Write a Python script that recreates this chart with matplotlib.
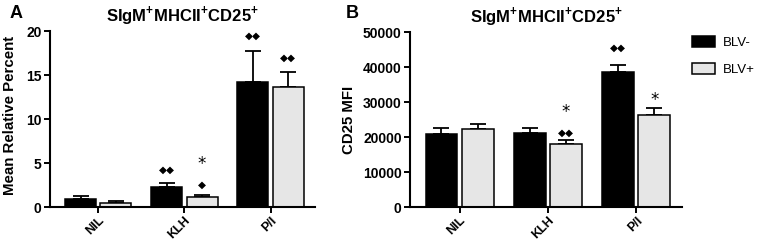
import matplotlib
matplotlib.use("Agg")
import matplotlib.pyplot as plt
import numpy as np
from matplotlib.patches import Patch

plt.rcParams['font.family'] = ['Liberation Sans', 'DejaVu Sans']
plt.rcParams['font.weight'] = 'bold'
plt.rcParams['mathtext.fontset'] = 'custom'
plt.rcParams['mathtext.rm'] = 'Liberation Sans:bold'
plt.rcParams['mathtext.bf'] = 'Liberation Sans:bold'

categories = ["NIL", "KLH", "P/I"]
series_names = ["BLV-", "BLV+"]

# Panel A: Mean Relative Percent
a_neg = [0.9, 2.3, 14.2]
a_neg_err = [0.3, 0.4, 3.5]
a_pos = [0.5, 1.1, 13.7]
a_pos_err = [0.2, 0.3, 1.6]

# Panel B: CD25 MFI
b_neg = [21000, 21300, 38500]
b_neg_err = [1500, 1400, 2000]
b_pos = [22400, 18100, 26400]
b_pos_err = [1300, 1000, 1900]

# significance annotations: (category index, series index, text lines from bottom)
a_marks = [(1, 0, ["◆◆"]), (1, 1, ["◆", "*"]), (2, 0, ["◆◆"]), (2, 1, ["◆◆"])]
b_marks = [(1, 1, ["◆◆", "*"]), (2, 0, ["◆◆"]), (2, 1, ["*"])]

colors = ["#000000", "#e6e6e6"]

fig = plt.figure(figsize=(7.58, 2.43), dpi=100)
axA = fig.add_axes([0.066, 0.148, 0.350, 0.724])
axB = fig.add_axes([0.541, 0.148, 0.359, 0.720])

def draw(ax, neg, neg_err, pos, pos_err, marks, ylim, yticks, ylabel, letter, letter_x, offsets):
    x = np.arange(len(categories))
    w = 0.36
    gap = 0.025
    vals = [neg, pos]
    errs = [neg_err, pos_err]
    xs = [x - w / 2 - gap, x + w / 2 + gap]
    for i in range(2):
        ax.bar(xs[i], vals[i], width=w, color=colors[i], edgecolor='black', linewidth=1.1, zorder=2)
        ax.errorbar(xs[i], vals[i], yerr=[np.zeros(len(x)), errs[i]], fmt='none',
                    ecolor='black', elinewidth=1.3, capsize=6, capthick=1.3, zorder=1)
    for ci, si, txts in marks:
        top = vals[si][ci] + errs[si][ci]
        for k, t in enumerate(txts):
            off = offsets[(ci, si, k)]
            fs = 7.5 if '◆' in t else 12
            ax.annotate(t, xy=(xs[si][ci], top), xytext=(0, off), textcoords='offset points',
                        ha='center', va='center', fontsize=fs, family='DejaVu Sans',
                        fontweight='normal')
    ax.set_xlim(-0.56, 2.52)
    ax.set_ylim(*ylim)
    ax.set_yticks(yticks)
    ax.set_xticks(x)
    ax.set_xticklabels(categories, rotation=45, ha='right', rotation_mode='anchor', fontsize=9, fontweight='bold')
    ax.tick_params(axis='y', labelsize=10, width=1.4, length=4, pad=2)
    ax.tick_params(axis='x', width=1.4, length=4.5, pad=1)
    for lab in ax.get_yticklabels():
        lab.set_fontweight('bold')
    ax.spines['top'].set_visible(False)
    ax.spines['right'].set_visible(False)
    ax.spines['left'].set_linewidth(1.5)
    ax.spines['bottom'].set_linewidth(1.5)
    ax.set_ylabel(ylabel, fontsize=10.8, fontweight='bold')
    ax.set_title(r"SIgM$^{+}$MHCII$^{+}$CD25$^{+}$", fontsize=12, fontweight='bold', pad=7)
    fig.text(letter_x, 0.945, letter, fontsize=13, fontweight='bold', ha='left', va='center')

offA = {(1, 0, 0): 10, (1, 1, 0): 7, (1, 1, 1): 22, (2, 0, 0): 11, (2, 1, 0): 10.5}
offB = {(1, 1, 0): 5.5, (1, 1, 1): 20, (2, 0, 0): 12.5, (2, 1, 0): 6}

draw(axA, a_neg, a_neg_err, a_pos, a_pos_err, a_marks, (0, 20), [0, 5, 10, 15, 20],
     "Mean Relative Percent", "A", 0.012, offA)
draw(axB, b_neg, b_neg_err, b_pos, b_pos_err, b_marks, (0, 50000),
     [0, 10000, 20000, 30000, 40000, 50000], "CD25 MFI", "B", 0.456, offB)
axA.yaxis.set_label_coords(-0.125, 0.52)
axB.yaxis.set_label_coords(-0.20, 0.5)

handles = [Patch(facecolor=colors[i], edgecolor='black', linewidth=1.1, label=series_names[i]) for i in range(2)]
fig.legend(handles=handles, loc='upper left', bbox_to_anchor=(0.913, 0.85), frameon=False,
           handlelength=1.75, handleheight=0.9, handletextpad=0.6, labelspacing=1.0,
           borderpad=0, borderaxespad=0,
           prop={'weight': 'normal', 'size': 9.5})

fig.savefig("out.png", dpi=100)
